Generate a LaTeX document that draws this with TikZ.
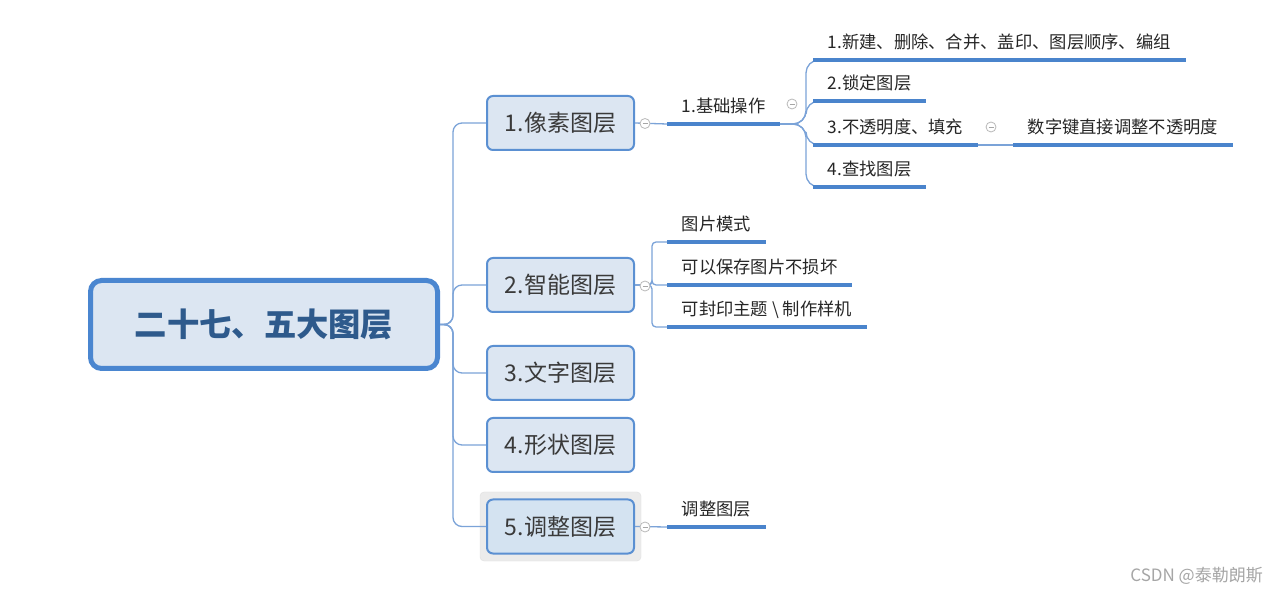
\documentclass[tikz,border=0pt]{standalone}
\usepackage{fontspec}
\newfontfamily\cjk{Noto Sans CJK SC}
\setmainfont{Noto Sans CJK SC}
\definecolor{boxfill}{HTML}{DCE6F2}
\definecolor{selfill}{HTML}{D4E3F1}
\definecolor{rootblue}{HTML}{4A86D0}
\definecolor{topicblue}{HTML}{5B90D2}
\definecolor{ulblue}{HTML}{4A84CC}
\definecolor{connblue}{HTML}{7BA3D8}
\definecolor{roottext}{HTML}{2E5A8C}
\definecolor{txt}{HTML}{262626}
\definecolor{ttxt}{HTML}{3A3A3A}
\tikzset{
  rootbox/.style={draw=rootblue, line width=5pt, fill=boxfill, rounded corners=11pt,
    minimum width=347pt, minimum height=88pt, inner sep=0pt,
    font=\cjk\bfseries\fontsize{32.3}{36}\selectfont, text=roottext},
  topic/.style={draw=topicblue, line width=2pt, fill=boxfill, rounded corners=6pt,
    minimum width=147pt, minimum height=54pt, inner sep=0pt,
    font=\cjk\fontsize{23}{26}\selectfont, text=ttxt},
  lbl/.style={anchor=south west, inner xsep=14.5pt, inner ysep=8pt, text height=13pt, text depth=3pt,
    font=\cjk\fontsize{17.3}{20}\selectfont, text=txt},
  uline/.style={line width=3.5pt, draw=ulblue},
  conn/.style={line width=1.3pt, draw=connblue},
  fold/.style={circle, draw=gray!55, line width=0.8pt, fill=white, minimum size=10pt, inner sep=0pt,
    path picture={\draw[gray!70, line width=0.8pt] ([xshift=2.5pt]path picture bounding box.west) -- ([xshift=-2.5pt]path picture bounding box.east);}},
  halo/.style={fill=gray!16, draw=gray!24, rounded corners=4pt}
}
\begin{document}
\begin{tikzpicture}[x=1pt,y=-1pt]
\useasboundingbox[fill=white] (0,0) rectangle (1278,593);

% halo of selected topic
\node[halo, minimum width=161pt, minimum height=69pt] (h5) at (560.5,526.5) {};

% root and main topics
\node[rootbox] (root) at (264,324.5) {二十七、五大图层};
\node[topic] (t1) at (560.5,123) {1.像素图层};
\node[topic] (t2) at (560.5,285) {2.智能图层};
\node[topic] (t3) at (560.5,373) {3.文字图层};
\node[topic] (t4) at (560.5,445) {4.形状图层};
\node[topic, fill=selfill] (t5) at (560.5,526.5) {5.调整图层};

% labels
\node[lbl] (a1) at (667,124) {1.基础操作};
\node[lbl] (b1) at (813,60) {1.新建、删除、合并、盖印、图层顺序、编组};
\node[lbl] (b2) at (813,101) {2.锁定图层};
\node[lbl] (b3) at (813,145) {3.不透明度、填充};
\node[lbl] (b4) at (813,187) {4.查找图层};
\node[lbl] (c1) at (1013,145) {数字键直接调整不透明度};
\node[lbl] (d1) at (667,242) {图片模式};
\node[lbl] (d2) at (667,285) {可以保存图片不损坏};
\node[lbl] (d3) at (667,327) {可封印主题 \textbackslash{} 制作样机};
\node[lbl] (e1) at (667,527) {调整图层};

% connectors root -> topics
\foreach \t in {t1,t2,t3,t4,t5}
  \draw[conn, rounded corners=9pt] (root.east) -- (453,324.5) |- (\t.west);

% topic 1
\draw[conn] (t1.east) -- (a1.south west);
\foreach \b in {b1,b2,b3,b4}
  \draw[conn, rounded corners=13pt] (a1.south east) -- (806,124) |- (\b.south west);
\draw[conn] (b3.south east) -- (c1.south west);

% topic 2
\foreach \d in {d1,d2,d3}
  \draw[conn, rounded corners=4pt] (t2.east) -- (652,285) |- (\d.south west);

% topic 5
\draw[conn] (t5.east) -- (e1.south west);

% underlines
\foreach \n in {a1,b1,b2,b3,b4,c1,d1,d2,d3,e1}
  \draw[uline] (\n.south west) -- (\n.south east);

% fold markers
\node[fold] (f1) at (645,123.5) {};
\node[fold] (f2) at (792,104) {};
\node[fold] (f3) at (991,127) {};
\node[fold] (f4) at (645,286) {};
\node[fold] (f5) at (645,527) {};

% watermark
\node[font=\cjk\fontsize{17}{19}\selectfont, text=gray!70, anchor=east, inner sep=0pt] (wm) at (1263,576) {CSDN @泰勒朗斯};
\end{tikzpicture}
\end{document}
